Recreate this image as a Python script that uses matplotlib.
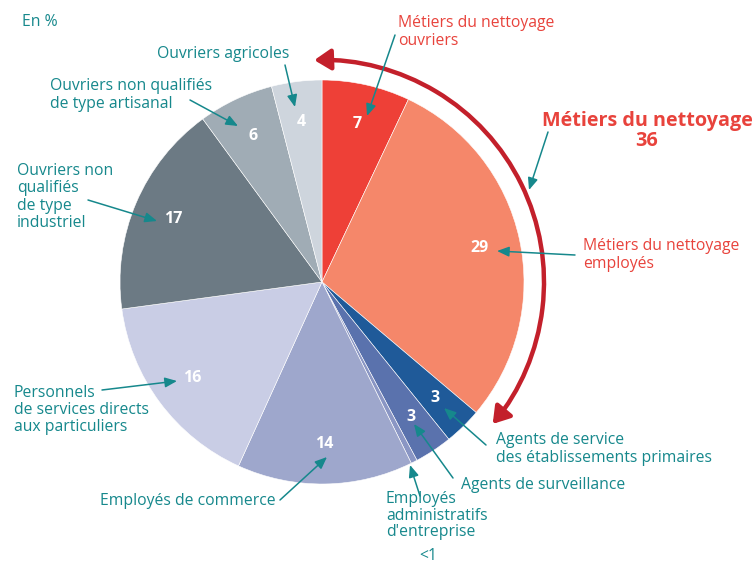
import numpy as np
import matplotlib
matplotlib.use("Agg")
import matplotlib.pyplot as plt
from matplotlib.patches import FancyArrowPatch
from matplotlib.path import Path
from matplotlib.transforms import Affine2D

plt.rcParams['font.family'] = ['Open Sans', 'DejaVu Sans']

# parts en % (sens horaire depuis midi)
categories = ["Métiers du nettoyage ouvriers", "Métiers du nettoyage employés",
              "Agents de service des établissements primaires", "Agents de surveillance",
              "Employés administratifs d'entreprise", "Employés de commerce",
              "Personnels de services directs aux particuliers",
              "Ouvriers non qualifiés de type industriel",
              "Ouvriers non qualifiés de type artisanal", "Ouvriers agricoles"]
values = [7, 29, 3, 3, 0.5, 14, 16, 17, 6, 4]
value_labels = ["7", "29", "3", "3", "", "14", "16", "17", "6", "4"]
colors = ["#EE4037", "#F5876A", "#1F5A99", "#5A72AD", "#8A96C4",
          "#9EA7CC", "#C9CDE5", "#6C7A84", "#A0ACB5", "#CED5DD"]
nettoyage_total = 36

TEAL = "#16888C"
RED = "#E8433C"
ARC = "#C3202B"

W, H = 753, 563
fig = plt.figure(figsize=(W / 100, H / 100), dpi=100)
ax = fig.add_axes([0, 0, 1, 1])

def Y(py):
    return H - py

cx, cy, R = 322, Y(282), 202

wedges, texts, autotexts = ax.pie(values, colors=colors, startangle=90, counterclock=False,
                                  center=(cx, cy), radius=R, autopct=lambda p: "",
                                  pctdistance=0.8,
                                  wedgeprops=dict(edgecolor="white", linewidth=0.4))
for t, s in zip(autotexts, value_labels):
    t.set_text(s)
    t.set_color("white")
    t.set_fontweight("bold")
    t.set_fontsize(11.5)

ax.set_xlim(0, W)
ax.set_ylim(0, H)
ax.set_aspect("equal")
ax.axis("off")

# arc "Métiers du nettoyage"
frac = (values[0] + values[1]) / sum(values)
a_start = 90 + 2
a_end = 90 - 360 * frac + 0.5
arc = Path.arc(a_end, a_start)
arc = arc.transformed(Affine2D().scale(222).translate(cx, cy))
ax.add_patch(FancyArrowPatch(path=arc, arrowstyle="<|-|>,head_length=0.7,head_width=0.45",
                             mutation_scale=14, color=ARC, lw=3.2))

# textes
fs = 11.3
ls = 1.12
ax.text(22, Y(22), "En %", color=TEAL, fontsize=fs, va="center")
ax.text(157, Y(54), "Ouvriers agricoles", color=TEAL, fontsize=fs, va="center")
ax.text(50, Y(95), "Ouvriers non qualifiés\nde type artisanal", color=TEAL, fontsize=fs,
        va="center", linespacing=ls)
ax.text(17, Y(197), "Ouvriers non\nqualifiés\nde type\nindustriel", color=TEAL, fontsize=fs,
        va="center", linespacing=ls)
ax.text(14, Y(410), "Personnels\nde services directs\naux particuliers", color=TEAL,
        fontsize=fs, va="center", linespacing=ls)
ax.text(100, Y(501), "Employés de commerce", color=TEAL, fontsize=fs, va="center")
ax.text(386, Y(491), "Employés\nadministratifs\nd'entreprise", color=TEAL, fontsize=fs,
        va="top", linespacing=1.06)
ax.text(428, Y(560), "<1", color=TEAL, fontsize=fs, va="baseline", ha="center")
ax.text(461, Y(485), "Agents de surveillance", color=TEAL, fontsize=fs, va="center")
ax.text(496, Y(449), "Agents de service\ndes établissements primaires", color=TEAL,
        fontsize=fs, va="center", linespacing=ls)
ax.text(583, Y(255), "Métiers du nettoyage\nemployés", color=RED, fontsize=fs,
        va="center", linespacing=ls)
ax.text(398, Y(32), "Métiers du nettoyage\nouvriers", color=RED, fontsize=fs,
        va="center", linespacing=ls)
ax.text(647, Y(131), "Métiers du nettoyage\n%d" % nettoyage_total, color=RED, fontsize=14.2,
        fontweight="bold", va="center", ha="center", linespacing=1.0)

# flèches
arrows = [((285, 65), (295, 107)),
          ((190, 100), (238, 126)),
          ((88, 200), (157, 221)),
          ((102, 390), (177, 381)),
          ((280, 500), (327, 457)),
          ((420, 496), (410, 465)),
          ((453, 478), (414, 424)),
          ((486, 445), (444, 408)),
          ((575, 255), (497, 251)),
          ((548, 132), (529, 190)),
          ((395, 35), (367, 116))]
for (x0, y0), (x1, y1) in arrows:
    ax.annotate("", xy=(x1, Y(y1)), xytext=(x0, Y(y0)),
                arrowprops=dict(arrowstyle="-|>,head_length=0.6,head_width=0.25",
                                color=TEAL, lw=1.1, mutation_scale=12,
                                shrinkA=0, shrinkB=0))

fig.savefig("out.png", dpi=100)
